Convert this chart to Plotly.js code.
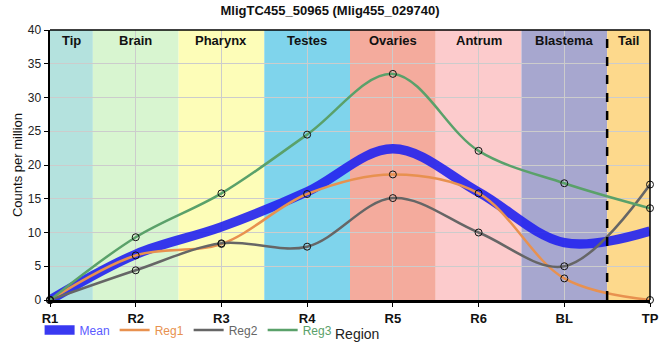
<!DOCTYPE html>
<html>
<head>
<meta charset="utf-8">
<script src="https://cdn.plot.ly/plotly-3.0.1.min.js"></script>
<style>html,body{margin:0;padding:0;background:#fff;}#chart{width:660px;height:360px;}</style>
</head>
<body>
<div id="chart"></div>
<script>
// ---- data ----
var categories = ['R1', 'R2', 'R3', 'R4', 'R5', 'R6', 'BL', 'TP'];
var reg1 = [0, 6.6, 8.3, 15.7, 18.6, 15.8, 3.2, 0];
var reg2 = [0, 4.4, 8.4, 7.9, 15.1, 10.0, 5.0, 17.1];
var reg3 = [0, 9.3, 15.8, 24.5, 33.5, 22.1, 17.3, 13.6];
var meanVals = [0, 6.77, 10.83, 16.03, 22.4, 15.97, 8.5, 10.23];
var regionNames = ['Tip', 'Brain', 'Pharynx', 'Testes', 'Ovaries', 'Antrum', 'Blastema', 'Tail'];
var regionStart = [0, 0.5, 1.5, 2.5, 3.5, 4.5, 5.5, 6.5];
var regionEnd = [0.5, 1.5, 2.5, 3.5, 4.5, 5.5, 6.5, 7];
var regionColors = ['#b4e2de', '#d8f5d0', '#fdfdb8', '#7fd4ec', '#f4ab9d', '#fccbcc', '#a7a7cf', '#fdd98c'];
var yTicks = [0, 5, 10, 15, 20, 25, 30, 35, 40];
var xTitle = 'Region';
var yTitle = 'Counts per million';

var colMean = '#2323f0', colReg1 = '#e8914f', colReg2 = '#666666', colReg3 = '#5aa16a';

var markerStyle = {symbol: 'circle-open', size: 7, color: '#111', line: {width: 1}};

function regLine(vals, name, col) {
  return {
    x: categories, y: vals, name: '<span style="color:' + col + '">' + name + '</span>',
    type: 'scatter', mode: 'lines',
    line: {color: col, width: 2.5, shape: 'spline', smoothing: 1},
    cliponaxis: false
  };
}
function regMarkers(vals) {
  return {x: categories, y: vals, type: 'scatter', mode: 'markers', marker: markerStyle,
    showlegend: false, cliponaxis: false, hoverinfo: 'skip'};
}

var traces = [
  {x: categories, y: meanVals, name: '<span style="color:#5a5aff">Mean</span>', type: 'scatter', mode: 'lines',
   line: {color: colMean, width: 9.5, shape: 'spline', smoothing: 1}, opacity: 0.9, cliponaxis: false},
  regLine(reg1, 'Reg1', colReg1),
  regLine(reg2, 'Reg2', colReg2),
  regLine(reg3, 'Reg3', colReg3),
  regMarkers(reg1), regMarkers(reg2), regMarkers(reg3)
];

var shapes = [];
var annotations = [];
for (var i = 0; i < regionNames.length; i++) {
  shapes.push({type: 'rect', xref: 'x', yref: 'paper', x0: regionStart[i], x1: regionEnd[i], y0: 0, y1: 1,
    fillcolor: regionColors[i], line: {width: 0}, layer: 'below'});
  annotations.push({xref: 'x', yref: 'paper', x: (regionStart[i] + regionEnd[i]) / 2, y: 1, yanchor: 'top',
    yshift: -1, text: '<b>' + regionNames[i] + '</b>', showarrow: false,
    font: {family: 'Liberation Sans, Arial, sans-serif', size: 13, color: '#111'}});
}
// x-axis title
annotations.push({xref: 'paper', yref: 'paper', x: 0.512, y: 0, yshift: -34, yanchor: 'middle', xanchor: 'center',
  text: xTitle, showarrow: false, font: {family: 'Liberation Sans, Arial, sans-serif', size: 14, color: '#222'}});

shapes.push({type: 'line', xref: 'x', yref: 'paper', x0: regionStart[7], x1: regionStart[7], y0: 0, y1: 1,
  line: {color: '#000', width: 2.5, dash: 'dash'}});
shapes.push({type: 'line', xref: 'paper', yref: 'paper', x0: 0, x1: 1, y0: 1, y1: 1, line: {color: '#000', width: 1.5}});
shapes.push({type: 'line', xref: 'paper', yref: 'paper', x0: 1, x1: 1, y0: 0, y1: 1, line: {color: '#000', width: 1.5}});

var layout = {
  width: 660, height: 360,
  margin: {l: 50, r: 10, t: 30, b: 60},
  paper_bgcolor: '#fff', plot_bgcolor: '#fff',
  font: {family: 'Liberation Sans, Arial, sans-serif', size: 12, color: '#222'},
  title: {text: '<b>MligTC455_50965 (Mlig455_029740)</b>', x: 0.5, xanchor: 'center', y: 0.985, yanchor: 'top',
    font: {size: 13, color: '#111'}},
  xaxis: {
    type: 'category', range: [0, 7], tickvals: categories, ticktext: categories.map(function(c){return '<b>' + c + '</b>';}),
    showgrid: true, gridcolor: '#cccccc', gridwidth: 1,
    showline: true, linecolor: '#000', linewidth: 3,
    ticks: 'outside', ticklen: 4, tickcolor: '#000',
    tickfont: {size: 13, color: '#111'},
    zeroline: false, fixedrange: true, automargin: false
  },
  yaxis: {
    range: [0, 40], tickvals: yTicks,
    showgrid: true, gridcolor: '#cccccc', gridwidth: 1,
    showline: true, linecolor: '#000', linewidth: 2.5,
    ticks: 'outside', ticklen: 4, tickcolor: '#000',
    tickfont: {size: 12, color: '#222'},
    title: {text: yTitle, standoff: 2, font: {size: 13, color: '#111'}},
    zeroline: false, fixedrange: true, automargin: false
  },
  legend: {orientation: 'h', xref: 'container', x: 0.06, xanchor: 'left', yref: 'container', y: 0.083, yanchor: 'middle',
    font: {size: 12, color: '#222'}, itemwidth: 30, tracegroupgap: 0, bgcolor: 'rgba(0,0,0,0)'},
  shapes: shapes,
  annotations: annotations,
  showlegend: true
};

Plotly.newPlot('chart', traces, layout, {displayModeBar: false, staticPlot: true});
</script>
</body>
</html>
